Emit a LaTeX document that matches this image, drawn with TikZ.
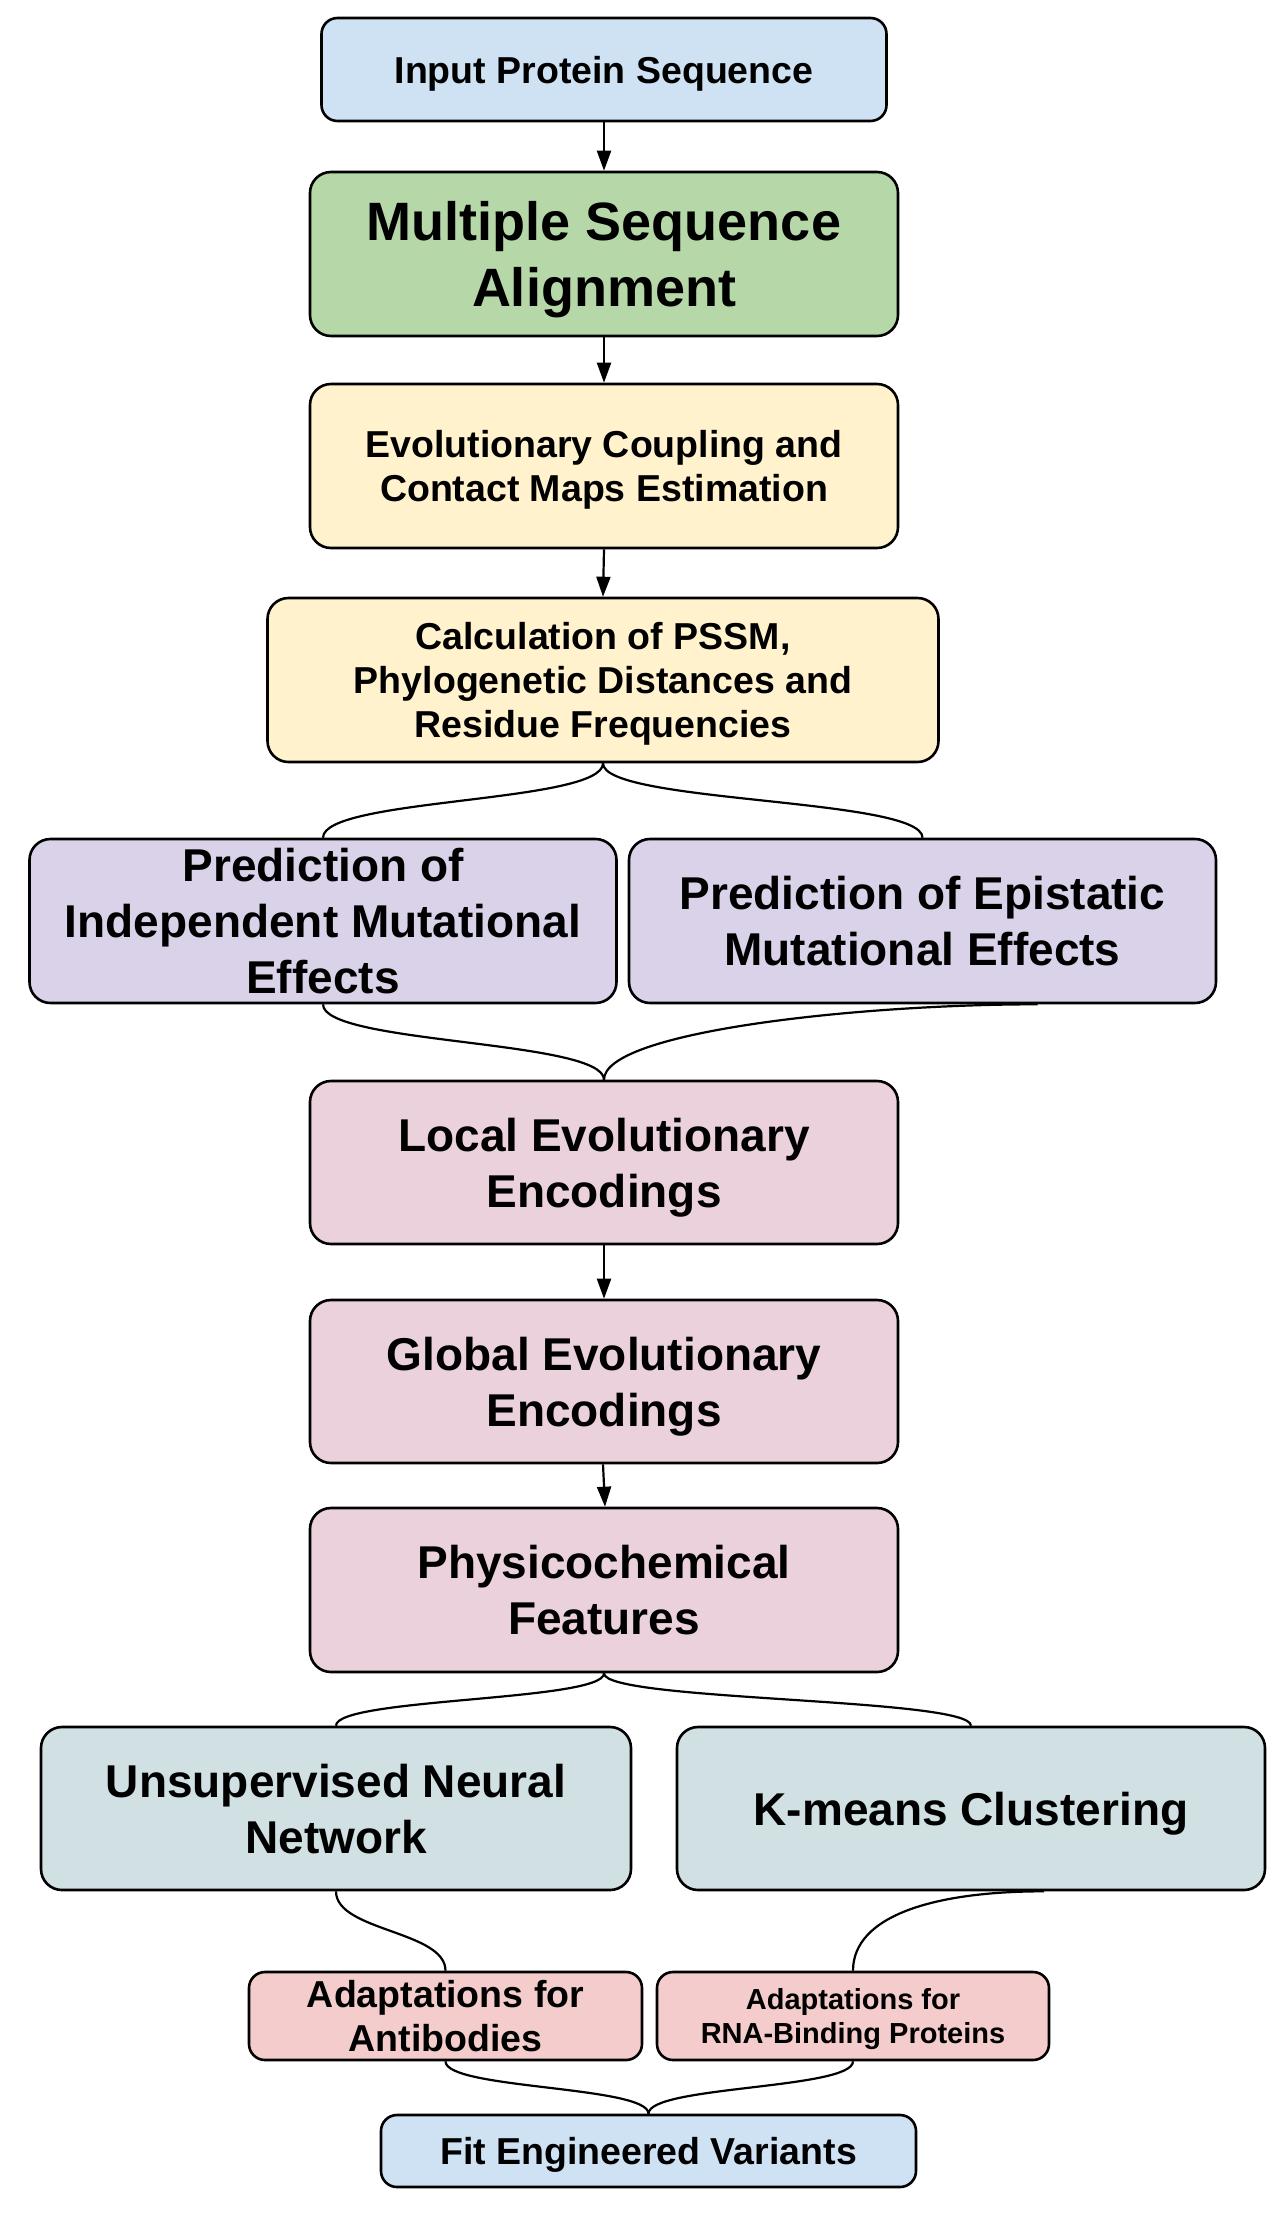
\documentclass[tikz,border=0pt]{standalone}
\usepackage{fontspec}
\setmainfont{Liberation Sans}
\usetikzlibrary{arrows.meta}
\definecolor{cblue}{HTML}{CFE2F3}
\definecolor{cgreen}{HTML}{B6D7A8}
\definecolor{cyellow}{HTML}{FFF2CC}
\definecolor{cpurple}{HTML}{D9D2E9}
\definecolor{cpink}{HTML}{EAD1DC}
\definecolor{cteal}{HTML}{D0E0E3}
\definecolor{cred}{HTML}{F4CCCC}
\begin{document}
\begin{tikzpicture}[x=1pt,y=-1pt,
  box/.style={draw=black, line width=2.6pt, rounded corners=21pt, align=center, inner sep=0pt, text depth=0pt},
  smallbox/.style={box, rounded corners=16pt},
  fsmall/.style={font=\bfseries\fontsize{37.5}{43.6}\selectfont},
  fmed/.style={font=\bfseries\fontsize{46}{56}\selectfont},
  fbig/.style={font=\bfseries\fontsize{54}{66}\selectfont},
  ftiny/.style={font=\bfseries\fontsize{29}{34}\selectfont},
  arr/.style={line width=2.2pt, -{Triangle[length=20pt,width=14pt]}},
  link/.style={line width=2.2pt},
]
\path[use as bounding box, fill=white] (0,0) rectangle (1280,2230);

\node[smallbox, fill=cblue, minimum width=565pt, minimum height=103pt, fsmall] (inp) at (604,69.5) {Input Protein Sequence};
\node[box, fill=cgreen, minimum width=588pt, minimum height=164pt, fbig] (msa) at (604,254) {Multiple Sequence\\Alignment};
\node[box, fill=cyellow, minimum width=588pt, minimum height=164pt, fsmall] (evo) at (604,466) {Evolutionary Coupling and\\Contact Maps Estimation};
\node[box, fill=cyellow, minimum width=671pt, minimum height=164pt, fsmall] (calc) at (603,680) {Calculation of PSSM,\\Phylogenetic Distances and\\Residue Frequencies};
\node[box, fill=cpurple, minimum width=587pt, minimum height=164pt, fmed] (ind) at (323,921) {Prediction of\\Independent Mutational\\Effects};
\node[box, fill=cpurple, minimum width=587pt, minimum height=164pt, fmed] (epi) at (922.5,921) {Prediction of Epistatic\\Mutational Effects};
\node[box, fill=cpink, minimum width=588pt, minimum height=163pt, fmed] (loc) at (604,1162.5) {Local Evolutionary\\Encodings};
\node[box, fill=cpink, minimum width=588pt, minimum height=163pt, fmed] (glob) at (604,1381.5) {Global Evolutionary\\Encodings};
\node[box, fill=cpink, minimum width=588pt, minimum height=164pt, fmed] (phys) at (604,1590) {Physicochemical\\Features};
\node[box, fill=cteal, minimum width=590pt, minimum height=163pt, fmed] (uns) at (336,1808.5) {Unsupervised Neural\\Network};
\node[box, fill=cteal, minimum width=588pt, minimum height=163pt, fmed] (km) at (971,1808.5) {K-means Clustering};
\node[smallbox, fill=cred, minimum width=393pt, minimum height=88pt, fsmall] (ab) at (445.5,2016) {Adaptations for\\Antibodies};
\node[smallbox, fill=cred, minimum width=392pt, minimum height=88pt, ftiny] (rna) at (853,2016) {Adaptations for\\RNA-Binding Proteins};
\node[smallbox, fill=cblue, minimum width=535pt, minimum height=72pt, fsmall] (fit) at (648.5,2151) {Fit Engineered Variants};

\draw[arr] (inp.south) -- (msa.north);
\draw[arr] (msa.south) -- (evo.north);
\draw[arr] (evo.south) -- (calc.north);
\draw[arr] (loc.south) -- (glob.north);
\draw[arr] ([xshift=-1pt]glob.south) -- ([xshift=1pt]phys.north);

\draw[link] (calc.south) .. controls +(0,40) and +(0,-40) .. (ind.north);
\draw[link] (calc.south) .. controls +(0,40) and +(0,-40) .. (epi.north);
\draw[link] (ind.south) .. controls +(0,40) and +(0,-40) .. (loc.north);
\draw[link] ([xshift=115pt]epi.south) .. controls +(-180,0) and +(0,-48) .. (loc.north);
\draw[link] (phys.south) .. controls +(0,28) and +(0,-28) .. (uns.north);
\draw[link] (phys.south) .. controls +(0,28) and +(0,-28) .. (km.north);
\draw[link] (uns.south) .. controls +(0,40) and +(0,-40) .. (ab.north);
\draw[link] ([xshift=73pt]km.south) .. controls +(-110,0) and +(0,-55) .. (rna.north);
\draw[link] (ab.south) .. controls +(0,28) and +(0,-28) .. (fit.north);
\draw[link] (rna.south) .. controls +(0,28) and +(0,-28) .. (fit.north);
\end{tikzpicture}
\end{document}
